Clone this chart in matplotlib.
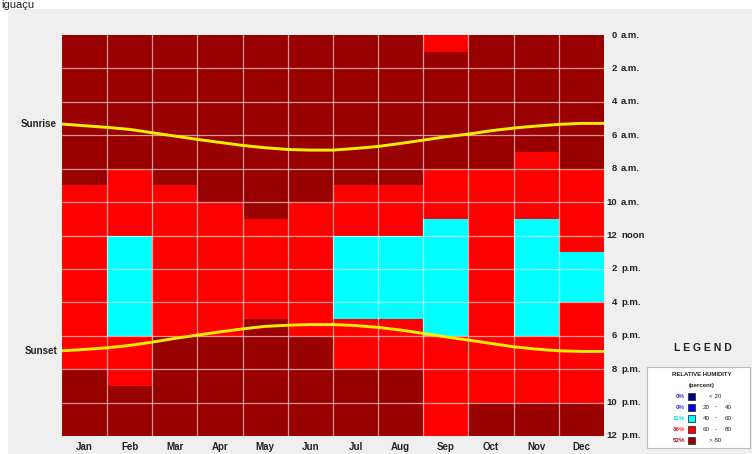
import matplotlib
matplotlib.use('Agg')
import matplotlib.pyplot as plt
import numpy as np
from matplotlib.colors import ListedColormap, BoundaryNorm
from matplotlib.patches import Rectangle
from matplotlib.transforms import blended_transform_factory

plt.rcParams['font.family'] = ['Liberation Sans', 'DejaVu Sans']

# 월 이름
months = ['Jan', 'Feb', 'Mar', 'Apr', 'May', 'Jun',
          'Jul', 'Aug', 'Sep', 'Oct', 'Nov', 'Dec']

# 시간별 습도 등급 (0:<20, 1:20-40, 2:40-60, 3:60-80, 4:>80), 0시부터 23시까지
humidity_class = [
    '444444444333333333334444',  # Jan
    '444444443333222222333444',  # Feb
    '444444444333333333444444',  # Mar
    '444444444433333333444444',  # Apr
    '444444444443333334444444',  # May
    '444444444433333333444444',  # Jun
    '444444444333222223334444',  # Jul
    '444444444333222223334444',  # Aug
    '344444443332222222333333',  # Sep
    '444444443333333333333344',  # Oct
    '444444433332222222333344',  # Nov
    '444444443333322233333344',  # Dec
]

# 일출 / 일몰 시각 (반달 간격, 1월 1일 ~ 12월 31일)
sun_x = [i / 2 for i in range(25)]
sunrise = [5.33, 5.43, 5.53, 5.65, 5.85, 6.05, 6.25, 6.43, 6.61, 6.75, 6.85, 6.89, 6.89,
           6.79, 6.67, 6.49, 6.29, 6.09, 5.93, 5.73, 5.57, 5.45, 5.35, 5.29, 5.29]
sunset = [18.90, 18.82, 18.72, 18.58, 18.38, 18.16, 17.96, 17.77, 17.59, 17.44, 17.37, 17.33, 17.33,
          17.39, 17.50, 17.66, 17.86, 18.07, 18.26, 18.46, 18.66, 18.80, 18.90, 18.94, 18.94]

# 시간 눈금 (숫자, 접미사)
hour_ticks = list(range(0, 25, 2))
hour_nums = ['0', '2', '4', '6', '8', '10', '12', '2', '4', '6', '8', '10', '12']
hour_suffix = ['a.m.', 'a.m.', 'a.m.', 'a.m.', 'a.m.', 'a.m.', 'noon',
               'p.m.', 'p.m.', 'p.m.', 'p.m.', 'p.m.', 'p.m.']

# 범례
legend_ranges = ['< 20', '20 - 40', '40 - 60', '60 - 80', '> 80']
legend_pct = ['0%', '0%', '11%', '36%', '52%']
class_colors = ['#000080', '#0000ff', '#00ffff', '#ff0000', '#990000']
pct_colors = ['#3333cc', '#3333ff', '#00dddd', '#ff2020', '#aa1111']

W, H = 752, 454


def fx(x):
    return x / W


def fy(y):
    return 1 - y / H


fig = plt.figure(figsize=(W / 100, H / 100), dpi=100)
fig.patch.set_facecolor('white')
fig.add_artist(Rectangle((fx(8), 0), 1, fy(9), transform=fig.transFigure,
                         facecolor='#efefef', edgecolor='none', zorder=-5))
fig.text(fx(1), fy(7.5), 'iguaçu', fontsize=8, color='#222222', va='baseline', ha='left', zorder=5)

ax = fig.add_axes([fx(62), fy(436), fx(604) - fx(62), fy(35) - fy(436)])

grid = np.array([[int(c) for c in s] for s in humidity_class])  # (12, 24)
cmap = ListedColormap(class_colors)
norm = BoundaryNorm(np.arange(-0.5, 5.5, 1), cmap.N)
ax.pcolormesh(np.arange(13), np.arange(25), grid.T, cmap=cmap, norm=norm)

# 격자선
for m in range(1, 12):
    ax.axvline(m, color='white', alpha=0.6, lw=0.9)
for h in range(2, 24, 2):
    ax.axhline(h, color='white', alpha=0.6, lw=0.9)

# 일출 / 일몰 곡선
ax.plot(sun_x, sunrise, color='#ffee00', lw=2.1, solid_capstyle='butt')
ax.plot(sun_x, sunset, color='#ffee00', lw=2.1, solid_capstyle='butt')

ax.set_xlim(0, 12)
ax.set_ylim(24, 0)
for s in ax.spines.values():
    s.set_visible(False)

ax.set_xticks(np.arange(12) + 0.5)
ax.set_xticklabels(months, fontsize=7, fontweight='bold', color='#222222')
ax.set_yticks([])
ax.tick_params(axis='both', length=0)
ax.tick_params(axis='x', pad=4)

# 오른쪽 시간 라벨: 숫자는 오른쪽 정렬, 접미사는 왼쪽 정렬
tr = blended_transform_factory(fig.transFigure, ax.transData)
for h, num, suf in zip(hour_ticks, hour_nums, hour_suffix):
    ax.text(fx(617), h, num, transform=tr, fontsize=6.8, fontweight='bold', color='#222222',
            ha='right', va='center', clip_on=False)
    ax.text(fx(621), h, suf, transform=tr, fontsize=6.8, fontweight='bold', color='#222222',
            ha='left', va='center', clip_on=False)

# 일출 / 일몰 라벨
fig.text(fx(57), fy(124), 'Sunrise', fontsize=7, fontweight='bold', color='#222222',
         ha='right', va='center')
fig.text(fx(57), fy(351), 'Sunset', fontsize=7, fontweight='bold', color='#222222',
         ha='right', va='center')

# 범례
fig.text(fx(703), fy(348), 'L E G E N D', fontsize=7.5, fontweight='bold', color='#222222',
         ha='center', va='center')
lax = fig.add_axes([fx(647), fy(448), fx(750) - fx(647), fy(367) - fy(448)])
lax.set_xlim(647, 750)
lax.set_ylim(448, 367)
lax.set_xticks([])
lax.set_yticks([])
lax.set_facecolor('white')
for s in lax.spines.values():
    s.set_color('#bbbbbb')
    s.set_linewidth(0.8)

lax.text(702, 375, 'RELATIVE HUMIDITY', fontsize=4.3, fontweight='bold', ha='center', va='center',
         color='#222222')
lax.text(702, 385, '(percent)', fontsize=4.3, fontweight='bold', ha='center', va='center',
         color='#222222')
for i, (rng, pct) in enumerate(zip(legend_ranges, legend_pct)):
    y = 396 + i * 11.1
    lax.text(685, y, pct, fontsize=4.5, fontweight='bold', ha='right', va='center', color=pct_colors[i])
    lax.add_patch(Rectangle((688, y - 3.5), 7, 7, facecolor=class_colors[i], edgecolor='#333333', lw=0.6))
    if rng.startswith('<') or rng.startswith('>'):
        lax.text(715, y, rng, fontsize=4.5, ha='center', va='center', color='#222222')
    else:
        lo, hi = rng.split(' - ')
        lax.text(706, y, lo, fontsize=4.5, ha='center', va='center', color='#222222')
        lax.text(716, y, '-', fontsize=4.5, ha='center', va='center', color='#222222')
        lax.text(728, y, hi, fontsize=4.5, ha='center', va='center', color='#222222')

fig.savefig('out.png', dpi=100)
